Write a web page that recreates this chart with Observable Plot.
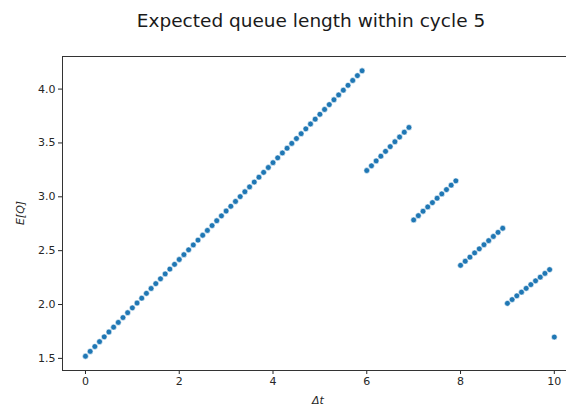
<!DOCTYPE html>
<html>
<head>
<meta charset="utf-8">
<script src="https://cdn.jsdelivr.net/npm/d3@7"></script>
<script src="https://cdn.jsdelivr.net/npm/@observablehq/plot@0.6"></script>
<style>
  body { margin: 0; background: #fff; font-family: "DejaVu Sans", sans-serif; }
  #title { width: 566px; box-sizing: border-box; padding-left: 56px; height: 40px; line-height: 42px; text-align: center; font-size: 18.5px; color: #1a1a1a; }
  svg { display: block; }
</style>
</head>
<body>
<div id="title">Expected queue length within cycle 5</div>
<div id="chart"></div>
<script>
const titleText = "Expected queue length within cycle 5";
const xLabel = "Δt";
const yLabel = "E[Q]";

const dt = [
  0.0, 0.1, 0.2, 0.3, 0.4, 0.5, 0.6, 0.7, 0.8, 0.9,
  1.0, 1.1, 1.2, 1.3, 1.4, 1.5, 1.6, 1.7, 1.8, 1.9,
  2.0, 2.1, 2.2, 2.3, 2.4, 2.5, 2.6, 2.7, 2.8, 2.9,
  3.0, 3.1, 3.2, 3.3, 3.4, 3.5, 3.6, 3.7, 3.8, 3.9,
  4.0, 4.1, 4.2, 4.3, 4.4, 4.5, 4.6, 4.7, 4.8, 4.9,
  5.0, 5.1, 5.2, 5.3, 5.4, 5.5, 5.6, 5.7, 5.8, 5.9,
  6.0, 6.1, 6.2, 6.3, 6.4, 6.5, 6.6, 6.7, 6.8, 6.9,
  7.0, 7.1, 7.2, 7.3, 7.4, 7.5, 7.6, 7.7, 7.8, 7.9,
  8.0, 8.1, 8.2, 8.3, 8.4, 8.5, 8.6, 8.7, 8.8, 8.9,
  9.0, 9.1, 9.2, 9.3, 9.4, 9.5, 9.6, 9.7, 9.8, 9.9,
  10.0
];

const expectedQ = [
  1.520, 1.565, 1.610, 1.655, 1.700, 1.745, 1.790, 1.834, 1.879, 1.924,
  1.969, 2.014, 2.059, 2.104, 2.149, 2.194, 2.239, 2.284, 2.329, 2.373,
  2.418, 2.463, 2.508, 2.553, 2.598, 2.643, 2.688, 2.733, 2.778, 2.823,
  2.868, 2.912, 2.957, 3.002, 3.047, 3.092, 3.137, 3.182, 3.227, 3.272,
  3.317, 3.362, 3.407, 3.451, 3.496, 3.541, 3.586, 3.631, 3.676, 3.721,
  3.766, 3.811, 3.856, 3.901, 3.946, 3.990, 4.035, 4.080, 4.125, 4.170,
  3.244, 3.288, 3.333, 3.377, 3.422, 3.466, 3.511, 3.555, 3.600, 3.644,
  2.785, 2.825, 2.866, 2.906, 2.946, 2.987, 3.027, 3.067, 3.108, 3.148,
  2.364, 2.402, 2.440, 2.479, 2.517, 2.555, 2.593, 2.632, 2.670, 2.708,
  2.011, 2.046, 2.081, 2.115, 2.150, 2.185, 2.220, 2.254, 2.289, 2.324,
  1.698
];

const xTicks = [0, 2, 4, 6, 8, 10];
const yTicks = [1.5, 2.0, 2.5, 3.0, 3.5, 4.0];
const xDomain = [-0.49, 10.26];
const yDomain = [1.3875, 4.3025];

const data = dt.map((t, i) => ({t, q: expectedQ[i]}));

const chart = Plot.plot({
  width: 566,
  height: 368,
  marginLeft: 62,
  marginRight: 0,
  marginTop: 16,
  marginBottom: 38,
  style: {fontFamily: "DejaVu Sans, sans-serif", fontSize: "11px", color: "#262626", background: "#fff"},
  x: {domain: xDomain, ticks: xTicks, tickSize: 4, tickPadding: 3, label: null, tickFormat: d3.format("d")},
  y: {domain: yDomain, ticks: yTicks, tickSize: 4, tickPadding: 3, label: null, tickFormat: d3.format(".1f")},
  marks: [
    Plot.ruleX([xDomain[0]], {stroke: "#333", strokeWidth: 1, strokeOpacity: 1}),
    Plot.ruleY([yDomain[0], yDomain[1]], {stroke: "#333", strokeWidth: 1, strokeOpacity: 1}),
    Plot.dot(data, {x: "t", y: "q", r: 2.9, fill: "#1f77b4", stroke: "white", strokeWidth: 0.6})
  ]
});

// axis labels
const svg = d3.select(chart);
svg.append("text")
  .attr("x", 318).attr("y", 364)
  .attr("text-anchor", "middle")
  .attr("font-style", "italic")
  .attr("font-size", "11px")
  .attr("fill", "#262626")
  .text(xLabel);
svg.append("text")
  .attr("transform", "translate(24," + (16 + 157) + ") rotate(-90)")
  .attr("text-anchor", "middle")
  .attr("font-style", "italic")
  .attr("font-size", "11px")
  .attr("fill", "#262626")
  .text(yLabel);

document.getElementById("chart").appendChild(chart);
</script>
</body>
</html>
